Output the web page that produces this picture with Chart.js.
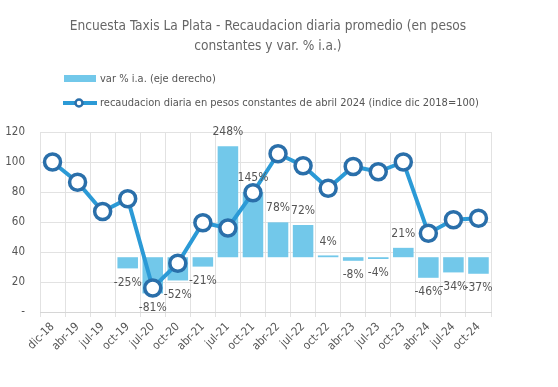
<!DOCTYPE html>
<html>
<head>
<meta charset="utf-8">
<script src="https://cdn.jsdelivr.net/npm/chart.js@4/dist/chart.umd.min.js"></script>
<style>
  html, body { margin: 0; padding: 0; background: #fff; }
  #wrap { width: 558px; height: 387px; }
</style>
</head>
<body>
<div id="wrap"><canvas id="chart"></canvas></div>
<script>
// Periods on the x axis
const periods = ['dic-18', 'abr-19', 'jul-19', 'oct-19', 'jul-20', 'oct-20', 'abr-21', 'jul-21', 'oct-21',
  'abr-22', 'jul-22', 'oct-22', 'abr-23', 'jul-23', 'oct-23', 'abr-24', 'jul-24', 'oct-24'];

// Daily collection in constant pesos (index dic 2018 = 100)
const indexValues = [100, 86.5, 67, 75.5, 16, 32.5, 59.5, 56, 79.5, 105.5, 97.5, 82.5, 97, 93.5, 100, 52.5, 61.5, 62.5];

// Year-over-year change, % (right axis)
const varPct = [null, null, null, -25, -81, -52, -21, 248, 145, 78, 72, 4, -8, -4, 21, -46, -34, -37];

// Left axis ticks
const leftTicks = [0, 20, 40, 60, 80, 100, 120];

const titleLines = ['Encuesta Taxis La Plata - Recaudacion diaria promedio (en pesos', 'constantes y var. % i.a.)'];
const legendBar = 'var % i.a. (eje derecho)';
const legendLine = 'recaudacion diaria en pesos constantes de abril 2024 (indice dic 2018=100)';

const FONT = "'Liberation Sans Narrow', 'DejaVu Sans Condensed', sans-serif";
const BAR_COLOR = '#72c8ea';
const LINE_COLOR = '#2b9ad6';
const MARKER_COLOR = '#2a6faa';
const TEXT_COLOR = '#555';

// Title + legend drawn on top of the reserved padding
const headerPlugin = {
  id: 'header',
  afterDraw(chart) {
    const ctx = chart.ctx;
    ctx.save();
    ctx.fillStyle = '#666';
    ctx.font = '13.6px ' + FONT;
    ctx.textAlign = 'center';
    ctx.textBaseline = 'middle';
    ctx.fillText(titleLines[0], 268, 26);
    ctx.fillText(titleLines[1], 268, 46);

    // bar legend
    ctx.fillStyle = BAR_COLOR;
    ctx.fillRect(64, 75, 32, 7);
    ctx.fillStyle = TEXT_COLOR;
    ctx.font = '11px ' + FONT;
    ctx.textAlign = 'left';
    ctx.fillText(legendBar, 100, 79);

    // line legend
    ctx.strokeStyle = LINE_COLOR;
    ctx.lineWidth = 4;
    ctx.beginPath();
    ctx.moveTo(63, 103);
    ctx.lineTo(97, 103);
    ctx.stroke();
    ctx.beginPath();
    ctx.arc(79, 103, 3.5, 0, Math.PI * 2);
    ctx.fillStyle = '#fff';
    ctx.fill();
    ctx.strokeStyle = MARKER_COLOR;
    ctx.lineWidth = 2.5;
    ctx.stroke();
    ctx.fillStyle = TEXT_COLOR;
    ctx.fillText(legendLine, 100, 103);
    ctx.restore();
  }
};

// Percent labels at the end of each bar
const barLabels = {
  id: 'barLabels',
  afterDatasetsDraw(chart) {
    const ctx = chart.ctx;
    const meta = chart.getDatasetMeta(1);
    ctx.save();
    ctx.font = '12px ' + FONT;
    ctx.fillStyle = TEXT_COLOR;
    ctx.textAlign = 'center';
    ctx.textBaseline = 'middle';
    meta.data.forEach((bar, i) => {
      const v = varPct[i];
      if (v === null) return;
      const y = v >= 0 ? bar.y - 14 : bar.y + 14;
      ctx.fillText(v + '%', bar.x, y);
    });
    ctx.restore();
  }
};

new Chart(document.getElementById('chart'), {
  type: 'bar',
  data: {
    labels: periods,
    datasets: [
      {
        type: 'line',
        label: legendLine,
        data: indexValues,
        yAxisID: 'y',
        borderColor: LINE_COLOR,
        borderWidth: 4,
        pointRadius: 8,
        pointHoverRadius: 8,
        pointBorderWidth: 3.5,
        pointBorderColor: MARKER_COLOR,
        pointBackgroundColor: '#fff',
        tension: 0,
        order: 0
      },
      {
        type: 'bar',
        label: legendBar,
        data: varPct,
        yAxisID: 'y1',
        backgroundColor: BAR_COLOR,
        categoryPercentage: 0.82,
        barPercentage: 1,
        order: 1
      }
    ]
  },
  options: {
    responsive: true,
    maintainAspectRatio: false,
    animation: false,
    layout: { padding: { top: 132, right: 67, left: 0, bottom: 0 } },
    plugins: {
      legend: { display: false },
      title: { display: false },
      tooltip: { enabled: false }
    },
    scales: {
      x: {
        offset: true,
        grid: { color: '#e2e2e2', offset: true, tickLength: 5 },
        border: { color: '#d6d6d6' },
        ticks: {
          color: TEXT_COLOR,
          font: { family: FONT, size: 11.5 },
          minRotation: 45,
          maxRotation: 45,
          autoSkip: false,
          padding: 3
        },
        afterFit(scale) { scale.height = 75; }
      },
      y: {
        min: 0,
        max: 120,
        afterBuildTicks(scale) { scale.ticks = leftTicks.map(v => ({ value: v })); },
        grid: { color: '#e2e2e2', drawTicks: false },
        border: { display: false },
        ticks: {
          color: TEXT_COLOR,
          font: { family: FONT, size: 11.5 },
          padding: 15,
          callback: v => v === 0 ? '-' : v
        },
        afterFit(scale) { scale.width = 40; }
      },
      y1: {
        display: false,
        min: -122.5,
        max: 280
      }
    }
  },
  plugins: [headerPlugin, barLabels]
});
</script>
</body>
</html>
